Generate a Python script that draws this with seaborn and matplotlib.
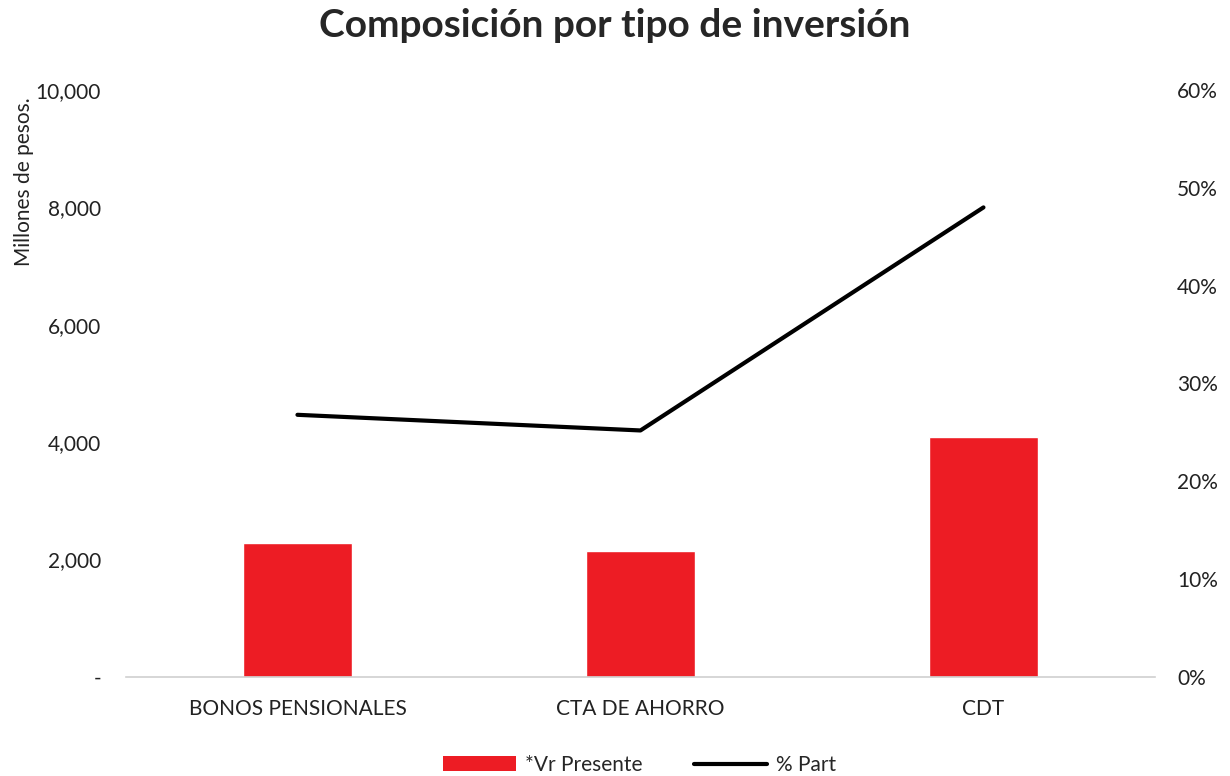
import numpy as np
import pandas as pd
import matplotlib
matplotlib.use("Agg")
import matplotlib.pyplot as plt
import matplotlib.ticker as mticker
from matplotlib.patches import Patch
from matplotlib.lines import Line2D
import seaborn as sns

# Data
categorias = ["BONOS PENSIONALES", "CTA DE AHORRO", "CDT"]
vr_presente = [2283, 2146, 4089]          # millones de pesos
pct_part = [0.268, 0.252, 0.480]          # % participacion

sns.set_theme(style="white")
plt.rcParams["font.family"] = ["Lato", "DejaVu Sans"]

df = pd.DataFrame({"Tipo": categorias, "Valor": vr_presente, "Part": pct_part})

fig = plt.figure(figsize=(12.3, 7.76), dpi=100)
ax = fig.add_axes([0.1024, 0.1276, 0.8366, 0.7564])

# -------------------------------
# Bars: *Vr Presente
# -------------------------------
sns.barplot(data=df, x="Tipo", y="Valor", color="#ED1C24", saturation=1,
            width=0.32, ax=ax)
ax.set_ylim(0, 10000)
ax.set_yticks(np.arange(0, 10001, 2000))
ax.yaxis.set_major_formatter(
    mticker.FuncFormatter(lambda v, p: "-" if v == 0 else f"{v:,.0f}"))
ax.set_xlabel("")
ax.set_ylabel("")
ax.tick_params(axis="both", length=0, labelsize=15, colors="#222222")
ax.tick_params(axis="y", pad=18)
ax.tick_params(axis="x", pad=16)
for s in ["top", "right", "left"]:
    ax.spines[s].set_visible(False)
ax.spines["bottom"].set_color("#d0d0d0")
ax.spines["bottom"].set_linewidth(1.2)

# -------------------------------
# Line: % Part (secondary axis)
# -------------------------------
ax2 = ax.twinx()
sns.lineplot(x=np.arange(len(categorias)), y=df["Part"], color="black",
             linewidth=3, sort=False, ax=ax2)
ax2.set_ylim(0, 0.6)
ax2.set_yticks(np.arange(0, 0.61, 0.1))
ax2.yaxis.set_major_formatter(mticker.PercentFormatter(1.0, decimals=0))
ax2.set_ylabel("")
ax2.tick_params(axis="y", length=0, labelsize=15, colors="#222222", pad=16)
for s in ["top", "right", "left", "bottom"]:
    ax2.spines[s].set_visible(False)
ax.set_xlim(-0.5, len(categorias) - 0.5)

fig.suptitle("Composición por tipo de inversión", fontsize=28,
             fontweight="bold", y=0.99)
fig.text(24 / 1230, 1 - 182 / 776, "Millones de pesos.", rotation=90,
         ha="center", va="center", fontsize=15, color="#222222")

handles = [Patch(facecolor="#ED1C24", edgecolor="none"),
           Line2D([0], [0], color="black", linewidth=3)]
fig.legend(handles, ["*Vr Presente", "% Part"], loc="center",
           bbox_to_anchor=(0.52, 1 - 765 / 776), ncol=2, frameon=False,
           fontsize=15, handlelength=3.5, columnspacing=2.5, handletextpad=0.4)

fig.savefig("out.png", dpi=100)
